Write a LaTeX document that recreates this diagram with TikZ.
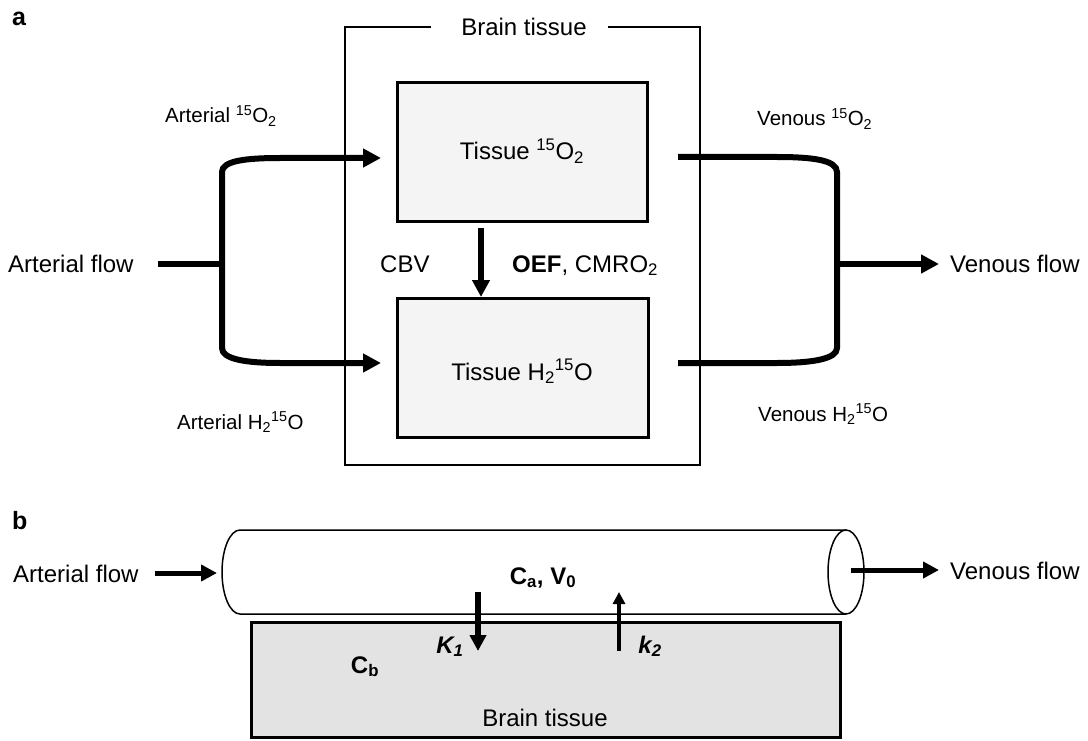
\documentclass[tikz,border=0pt]{standalone}
\usepackage{fontspec}
\setmainfont{Liberation Sans}
\usetikzlibrary{arrows.meta}
\begin{document}
\begin{tikzpicture}[x=1pt,y=-1pt,
  small/.style={font=\fontsize{20.5}{24}\selectfont, inner sep=0pt},
  big/.style={font=\fontsize{24}{28}\selectfont, inner sep=0pt},
  paneltag/.style={font=\fontsize{25}{28}\selectfont\bfseries, inner sep=0pt},
  flow/.style={line width=6pt},
  flowarrow/.style={line width=6pt, -{Triangle[length=18pt,width=18pt]}},
  midarrow/.style={line width=5.5pt, -{Triangle[length=17pt,width=17pt]}},
  thinarrow/.style={line width=3.5pt, -{Triangle[length=12pt,width=12pt]}},
  tissuebox/.style={draw, line width=3pt, fill=gray!9, inner sep=0pt},
  brainbox/.style={draw, line width=3pt, fill=gray!22, inner sep=0pt},
  outline/.style={line width=1.5pt}]
\useasboundingbox (0,0) rectangle (1088,741);

% ---------------- panel a ----------------
\node[paneltag, anchor=base west] (taga) at (12,26) {a};

% outer brain tissue box with gap for the title
\draw[outline] (431,27) -- (345,27) -- (345,465) -- (700,465) -- (700,27) -- (608,27);
\node[big, anchor=base] (braina) at (524,36) {Brain tissue};

% tissue compartments
\node[tissuebox, minimum width=250pt, minimum height=139pt] (t1) at (522,152.5) {};
\node[tissuebox, minimum width=251pt, minimum height=139pt] (t2) at (522.5,367.5) {};
\node[big, anchor=base] (t1lab) at (522,160) {Tissue \textsuperscript{15}O\textsubscript{2}};
\node[big, anchor=base] (t2lab) at (522,380) {Tissue H\textsubscript{2}\textsuperscript{15}O};

% labels
\node[big, anchor=base west] (afa) at (8,272.5) {Arterial flow};
\node[big, anchor=base west] (vfa) at (950,272.5) {Venous flow};
\node[small, anchor=base west] (ao2) at (165,123) {Arterial \textsuperscript{15}O\textsubscript{2}};
\node[small, anchor=base west] (vo2) at (757,126) {Venous \textsuperscript{15}O\textsubscript{2}};
\node[small, anchor=base west] (ah2o) at (177,429) {Arterial H\textsubscript{2}\textsuperscript{15}O};
\node[small, anchor=base west] (vh2o) at (758,421) {Venous H\textsubscript{2}\textsuperscript{15}O};
\node[big, anchor=base west] (cbv) at (380,272) {CBV};
\node[big, anchor=base west] (oef) at (512,272) {\textbf{OEF}, CMRO\textsubscript{2}};

% arterial branches
\coordinate (astart) at (158,264);
\coordinate (ajun) at (222,264);
\coordinate (ain1) at (381,158);
\coordinate (ain2) at (381,363);
\draw[flow] (astart) -- (ajun);
\draw[flowarrow] (ajun) -- (222,172) .. controls (222,161) and (245,158) .. (280,158) -- (ain1);
\draw[flowarrow] (ajun) -- (222,348) .. controls (222,359) and (245,363) .. (280,363) -- (ain2);

% venous branches
\coordinate (vjun) at (837,264);
\coordinate (vout) at (939,264);
\draw[flow] (678,157) -- (777,157) .. controls (812,157) and (837,160) .. (837,172)
  -- (837,348) .. controls (837,359) and (812,363) .. (777,363) -- (678,363);
\draw[flowarrow] (vjun) -- (vout);

% conversion arrow
\coordinate (cv1) at (481,228);
\coordinate (cv2) at (481,297);
\draw[midarrow] (cv1) -- (cv2);

% ---------------- panel b ----------------
\node[paneltag, anchor=base west] (tagb) at (12,529) {b};

% vessel (cylinder)
\draw[outline] (846,530) -- (240,530) .. controls (230,530) and (222,549) .. (222,572)
  .. controls (222,595) and (230,614) .. (240,614) -- (846,614);
\draw[outline] (846,572) ellipse [x radius=18, y radius=42];

% brain tissue
\node[brainbox, minimum width=589pt, minimum height=115pt] (bt) at (545.5,679.5) {};

% labels
\node[big, anchor=base west] (afb) at (13,582) {Arterial flow};
\node[big, anchor=base west] (vfb) at (950,579) {Venous flow};
\node[big, anchor=base, font=\fontsize{24}{28}\selectfont\bfseries] (cav) at (543,584) {C\textsubscript{a}, V\textsubscript{0}};
\node[big, anchor=base, font=\fontsize{24}{28}\selectfont\bfseries\itshape] (k1) at (450,653) {K\textsubscript{1}};
\node[big, anchor=base, font=\fontsize{24}{28}\selectfont\bfseries\itshape] (k2) at (650,653) {k\textsubscript{2}};
\node[big, anchor=base, font=\fontsize{24}{28}\selectfont\bfseries] (cb) at (365,673) {C\textsubscript{b}};
\node[big, anchor=base] (brainb) at (545,726) {Brain tissue};

% flows
\coordinate (bin0) at (155,573);
\coordinate (bin1) at (217,573);
\coordinate (bout0) at (851,570);
\coordinate (bout1) at (939,570);
\draw[line width=5pt, -{Triangle[length=16pt,width=16pt]}] (bin0) -- (bin1);
\draw[line width=5pt, -{Triangle[length=16pt,width=16pt]}] (bout0) -- (bout1);

% exchange arrows
\coordinate (k1a) at (478,592);
\coordinate (k1b) at (478,651);
\coordinate (k2a) at (619,651);
\coordinate (k2b) at (619,592);
\draw[line width=5.5pt, -{Triangle[length=16pt,width=16pt]}] (k1a) -- (k1b);
\draw[thinarrow] (k2a) -- (k2b);
\end{tikzpicture}
\end{document}
